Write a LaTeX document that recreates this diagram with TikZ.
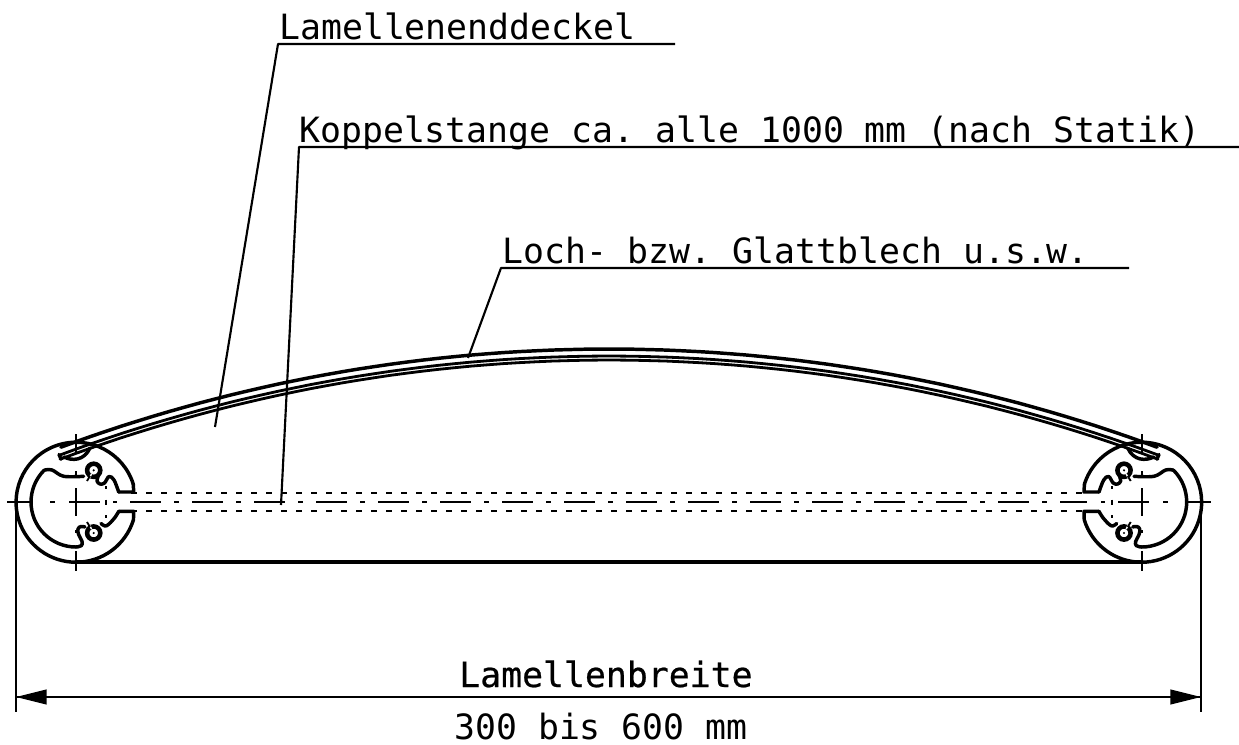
\documentclass[tikz,border=0pt]{standalone}
\usepackage{fontspec}
\setmonofont{DejaVu Sans Mono}
\usetikzlibrary{arrows.meta}
\tikzset{
  px/.style={x=0.75pt,y=-0.75pt},
  main/.style={line width=2.6pt,line cap=round,line join=round},
  thin line/.style={line width=1.4pt},
  leader/.style={line width=1.6pt,line join=round},
  label/.style={anchor=base west,inner sep=0pt,font=\ttfamily\fontsize{26.1}{30}\selectfont},
  labelb/.style={label,font=\ttfamily\fontsize{26.1}{30}\selectfont\addfontfeatures{FakeBold=0.6}},
  centre/.style={line width=1.4pt},
  hidden/.style={line width=1.4pt,dash pattern=on 4.5pt off 6.75pt},
  dimtip/.style={-{Triangle[length=23pt,width=11pt]}}
}
\newcommand{\lamprofile}{%
  % outer shell
  \draw[main] (57.3,-17.8) arc[start angle=-17.5,end angle=-270,radius=60]
     arc[start angle=90,end angle=17,radius=60] -- (57.7,9.3) -- (42.7,9.3);
  \draw[main] plot[smooth,tension=0.6] coordinates {(42.7,9.3) (39.3,15) (33,22) (29,24) (25,21.5)};
  \draw[main] (57.3,-17.8) -- (57.7,-10) -- (42.7,-10);
  \draw[main] plot[smooth,tension=0.6] coordinates {(42.7,-10) (38,-22) (33,-25.5) (28.5,-19) (24,-18) (21,-21) (22,-25)};
  % cavity
  \draw[main] plot[smooth,tension=0.6] coordinates {(7.7,-25.7) (-12.3,-25.7) (-24,-32) (-31.8,-31.8)};
  \draw[main] (-31.8,-31.8) arc[start angle=225,end angle=90,radius=45];
  \draw[main] plot[smooth,tension=0.7] coordinates {(0,45) (5.3,43.7) (6,39.3) (2.7,32.7) (2,27) (5,24.5) (9,25)};
  % screw bosses
  \draw[line width=3.4pt] (17.7,-31.7) circle[radius=6.6];
  \draw[line width=3.4pt] (17.7,31) circle[radius=6.6];
  \fill (17.7,-31.7) circle[radius=1.2];
  \fill (17.7,31) circle[radius=1.2];
  \draw[white,line width=1.1pt] (13,-23) -- (15.5,-28);
  \draw[white,line width=1.1pt] (13,22) -- (15.5,27);
  \draw[thin line] (11,-21) -- (14,-26);
  \draw[thin line] (11,20) -- (14,25);
  % cover bump under sheet
  \draw[main] (-12,-45) .. controls (-4,-41) and (8,-41) .. (14,-54);
  % centre lines
  \draw[centre] (-69,0) -- (-43,0) (-26,0) -- (-21,0) (-7,0) -- (24,0) (37,0) -- (41,0);
  \draw[centre] (0,-68) -- (0,-49) (0,-31) -- (0,-27) (0,-14) -- (0,14) (0,28) -- (0,31) (0,49) -- (0,69);
  \draw[centre] (30,-16) -- (30,-13) (30,-2.5) -- (30,3) (30,13) -- (30,16);
}
\begin{document}
\begin{tikzpicture}[px]
\useasboundingbox (0,0) rectangle (1239,745);
\fill[white] (0,0) rectangle (1239,745);

% labels and leaders
\node[label] (deckel) at (279,40) {Lamellenenddeckel};
\node[label] (koppel) at (299,143) {Koppelstange ca. alle 1000 mm (nach Statik)};
\node[label] (loch) at (502,264) {Loch- bzw. Glattblech u.s.w.};
\node[labelb] (breite) at (459,687) {Lamellenbreite};
\node[label] (mass) at (454,739) {300 bis 600 mm};

\coordinate (d0) at (278,44);  \coordinate (d1) at (675,44);  \coordinate (d2) at (215,427);
\coordinate (k0) at (299,147); \coordinate (k1) at (1239,147); \coordinate (k2) at (281,505);
\coordinate (l0) at (501,268); \coordinate (l1) at (1129,268); \coordinate (l2) at (468,358);
\draw[leader] (d1) -- (d0) -- (d2);
\draw[leader] (k1) -- (k0) -- (k2);
\draw[leader] (l1) -- (l0) -- (l2);

% curved sheet and lid
\draw[main] plot[domain=-20.3:20.3,samples=70] ({609+1580*sin(\x)},{349+1580-1580*cos(\x)});
\draw[main,line width=2.1pt] plot[domain=-20.42:20.42,samples=70] ({609+1573*sin(\x)},{349+1580-1573*cos(\x)});
\draw[main,line width=2.1pt] plot[domain=-20.48:20.48,samples=70] ({609+1569*sin(\x)},{349+1580-1569*cos(\x)});
\draw[main] (59,454.5) -- (61,459);
\draw[main] (1159,454.5) -- (1157,459);

% bottom edge
\coordinate (b0) at (76,562); \coordinate (b1) at (1142,562);
\draw[main] (b0) -- (b1);

% end profiles
\begin{scope}[shift={(76,502)}]\lamprofile\end{scope}
\begin{scope}[shift={(1141.7,502)},xscale=-1]\lamprofile\end{scope}

% centre and hidden lines
\draw[centre,dash pattern=on 23.25pt off 9.75pt on 3.75pt off 9.75pt] (130,502) -- (1087,502);
\draw[hidden] (131,493.3) -- (1087,493.3);
\draw[hidden] (131,511) -- (1087,511);

% dimension
\coordinate (e0) at (16,505); \coordinate (e1) at (16,712);
\coordinate (f0) at (1201,505); \coordinate (f1) at (1201,712);
\coordinate (m0) at (16,697); \coordinate (m1) at (1201,697);
\draw[leader] (e0) -- (e1);
\draw[leader] (f0) -- (f1);
\draw[leader,dimtip] (m1) -- (m0);
\draw[leader,dimtip] (m0) -- (m1);
\end{tikzpicture}
\end{document}
